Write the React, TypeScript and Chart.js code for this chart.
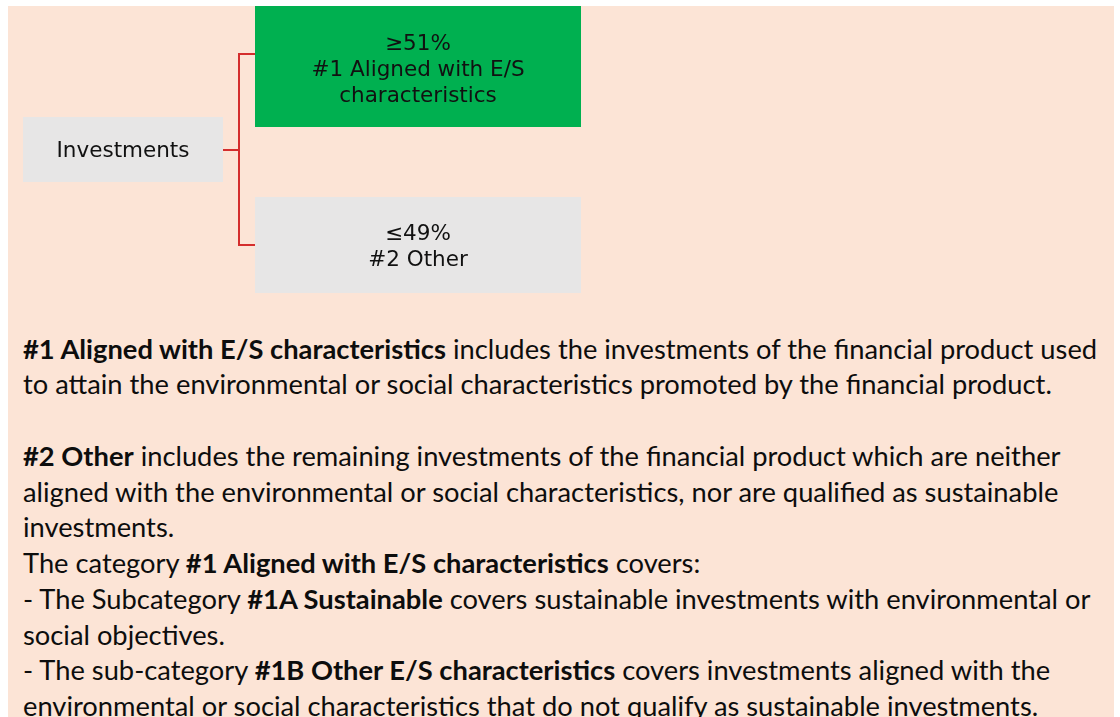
import React, { useEffect, useRef } from "react";
import { Chart, registerables } from "chart.js";

Chart.register(...registerables);

// ---- data ----
const nodeNames = ["Investments", "#1 Aligned with E/S characteristics", "#2 Other"];
const nodeShares = ["", "≥51%", "≤49%"];
const nodeLabelLines = [["Investments"], ["≥51%", "#1 Aligned with E/S", "characteristics"], ["≤49%", "#2 Other"]];
const nodeParent = [-1, 0, 0];

// ---- styles ----
const nodeColors = ["#E7E6E6", "#00B050", "#E7E6E6"];
const connectorColor = "#D42D2D";

// ---- layout (units of the hidden linear axes, which span the canvas) ----
const canvasW = 1120;
const canvasH = 310;
const boxLeft = [23, 255, 255];
const boxRight = [223, 581, 581];
const boxTop = [117, 6, 197];
const boxBottom = [182, 127, 293];
const branchY = [150, 54, 245];
const labelCenterY = [151.5, 70.5, 247.5];
const trunkX = 239;
const labelStep = 26;

const App: React.FC = () => {
  const ref = useRef<HTMLCanvasElement | null>(null);

  useEffect(() => {
    if (!ref.current) return;
    const boxSets = nodeNames.map((name, i) => ({
      label: name,
      data: [
        { x: boxLeft[i], y: boxTop[i] },
        { x: boxRight[i], y: boxTop[i] },
        { x: boxRight[i], y: boxBottom[i] },
        { x: boxLeft[i], y: boxBottom[i] },
        { x: boxLeft[i], y: boxTop[i] },
      ],
      showLine: true,
      fill: "shape" as any,
      backgroundColor: nodeColors[i],
      borderColor: nodeColors[i],
      borderWidth: 0,
      pointRadius: 0,
      tension: 0,
      order: 2,
    }));
    const connectorSets: any[] = [];
    nodeNames.forEach((name, i) => {
      const children = nodeParent.map((p, j) => (p === i ? j : -1)).filter((j) => j >= 0);
      if (!children.length) return;
      connectorSets.push({
        label: name + " stub",
        data: [
          { x: boxRight[i], y: branchY[i] },
          { x: trunkX, y: branchY[i] },
        ],
        showLine: true,
        fill: false,
        borderColor: connectorColor,
        borderWidth: 2,
        pointRadius: 0,
        order: 1,
      });
      const first = children[0];
      const last = children[children.length - 1];
      connectorSets.push({
        label: name + " branches",
        data: [
          { x: boxLeft[first], y: branchY[first] },
          { x: trunkX, y: branchY[first] },
          { x: trunkX, y: branchY[last] },
          { x: boxLeft[last], y: branchY[last] },
        ],
        showLine: true,
        fill: false,
        borderColor: connectorColor,
        borderWidth: 2,
        borderJoinStyle: "miter",
        pointRadius: 0,
        order: 1,
      });
    });

    const labelPlugin = {
      id: "boxLabels",
      afterDatasetsDraw(chart: any) {
        const { ctx, scales } = chart;
        ctx.save();
        ctx.fillStyle = "#111111";
        ctx.font = '21.5px "DejaVu Sans"';
        ctx.textAlign = "center";
        ctx.textBaseline = "middle";
        nodeLabelLines.forEach((lines, i) => {
          const cx = scales.x.getPixelForValue((boxLeft[i] + boxRight[i]) / 2);
          const n = lines.length;
          lines.forEach((t, k) => {
            const yv = labelCenterY[i] + (k - (n - 1) / 2) * labelStep;
            ctx.fillText(t, cx, scales.y.getPixelForValue(yv));
          });
        });
        ctx.restore();
      },
    };

    const chart = new Chart(ref.current, {
      type: "scatter",
      data: { datasets: [...connectorSets, ...boxSets] as any },
      options: {
        animation: false,
        responsive: false,
        maintainAspectRatio: false,
        devicePixelRatio: 1,
        layout: { padding: 0, autoPadding: false } as any,
        events: [],
        plugins: { legend: { display: false }, tooltip: { enabled: false }, title: { display: false } },
        scales: {
          x: { type: "linear", min: 0, max: canvasW, display: false },
          y: { type: "linear", min: 0, max: canvasH, reverse: true, display: false },
        },
      },
      plugins: [labelPlugin],
    });
    return () => chart.destroy();
  }, []);

  const B = (t: string) => <b style={{ fontWeight: 700 }}>{t}</b>;

  return (
    <div style={{ position: "fixed", left: 0, top: 0, width: 1120, height: 717, background: "#ffffff", overflow: "hidden" }}>
      <div style={{ position: "absolute", left: 8, top: 6, width: 1106, height: 711, background: "#FCE4D6" }} />
      <canvas
        ref={ref}
        width={canvasW}
        height={canvasH}
        style={{ position: "absolute", left: 0, top: 0, width: canvasW, height: canvasH }}
      />
      <div
        style={{
          position: "absolute",
          left: 23,
          top: 330.7,
          fontFamily: "Lato, 'Open Sans', sans-serif",
          fontSize: 27.3,
          lineHeight: "35.75px",
          color: "#0d0d0d",
          whiteSpace: "nowrap",
        }}
      >
        <div>{B("#1 Aligned with E/S characteristics")} includes the investments of the financial product used</div>
        <div>to attain the environmental or social characteristics promoted by the financial product.</div>
        <div>&nbsp;</div>
        <div>{B("#2 Other")} includes the remaining investments of the financial product which are neither</div>
        <div>aligned with the environmental or social characteristics, nor are qualified as sustainable</div>
        <div>investments.</div>
        <div>The category {B("#1 Aligned with E/S characteristics")} covers:</div>
        <div>- The Subcategory {B("#1A Sustainable")} covers sustainable investments with environmental or</div>
        <div>social objectives.</div>
        <div>- The sub-category {B("#1B Other E/S characteristics")} covers investments aligned with the</div>
        <div>environmental or social characteristics that do not qualify as sustainable investments.</div>
      </div>
    </div>
  );
};

export default App;
